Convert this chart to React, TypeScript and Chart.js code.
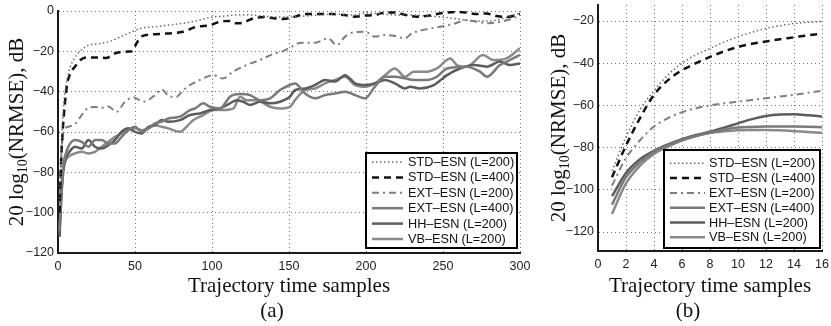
import React, { useEffect, useRef } from "react";
import { Chart, registerables } from "chart.js";
Chart.register(...registerables);

// ---------- Panel (a) data ----------
const A_STD200_X = [1,2,3,4,5,7,10,14,20,26,33,41,48,54,63,72,81,90,99,107,116,125,134,142,150,160,170,180,190,200,210,220,230,240,250,260,270,280,290,300];
const A_STD200_Y = [-95,-70,-55,-44,-38,-30,-24.3,-20.2,-16.9,-16.3,-15.2,-12.7,-10.3,-8.6,-7.8,-7,-6.1,-4.9,-3.1,-2.6,-2,-2,-2.6,-3,-3,-2.5,-2,-1.5,-2,-1,-1.5,-2,-2,-2.5,-3,-4,-5,-5,-3.5,-1];

const A_STD400_X = [1,2,3,4,5,6,8,11,15,20,26,31,37,41,48,51,54,61,70,76,81,90,99,105,112,116,120,127,134,140,146,154,160,169,178,186,193,199,206,212,219,226,233,239,246,252,259,265,272,278,285,291,298,300];
const A_STD400_Y = [-100,-75,-60,-50,-42,-36,-31,-27.6,-24,-23,-23,-23.3,-21,-20.3,-20,-16,-12.7,-11.6,-11.2,-10.9,-10.3,-7.8,-7,-5.3,-4.9,-6.1,-5.8,-3.6,-3,-3.6,-4,-2.8,-1.5,-1.5,-1.5,-2,-2.8,-2.3,-2,-0.8,-0.8,-2,-2.8,-2.5,-1.5,-0.8,-0.5,-0.8,-1.5,-1.2,-2.5,-3,-2,-1.5];

const A_EXT200_X = [1,2,3.4,6.7,11,15.4,19.7,24,28.4,32.7,38,43.5,48.9,55.4,63,67.3,72.7,77,81.4,85.7,92,100.9,107,113.8,122.5,131,139.8,146.3,151.8,158,166.9,175.5,181,186.4,190.7,199.4,205.8,212,218.8,225,230,239,248,256.7,265,272,280,287,295.7,300];
const A_EXT200_Y = [-100,-75,-60.7,-57.4,-56,-51.6,-48,-47.6,-48,-47.3,-50,-45,-42.8,-45,-41.7,-38.9,-42.5,-42.5,-39.2,-36.7,-34.2,-31.8,-33.5,-30,-26.8,-24.3,-21.3,-19.9,-17.7,-15.7,-15.7,-13.6,-16.9,-12.7,-10.8,-10.3,-12.7,-11.9,-12.4,-13.6,-11,-9.1,-7.8,-6.5,-4.5,-5.3,-6.1,-5.3,-3.6,-1.5];

const A_EXT400_X = [1,2,3,4,5,6.7,11,15.4,19.7,24,28.4,32.7,37,41.3,45.7,50,54.3,58.7,63,67.3,71.6,79.2,85.7,89,94.4,98.7,105.2,111.7,118.2,124.7,131.2,137.7,144.2,150.6,153.9,160.4,166.9,173.4,179.9,186.4,192.9,199.4,205.8,212.3,218.8,225.3,231,239.5,246,252.6,265.5,274,278.5,287,293.5,300];
const A_EXT400_Y = [-109,-92,-80,-74,-71,-67.3,-64,-64.9,-67.3,-64,-64,-65.7,-65.7,-62.4,-59.1,-57.4,-59.9,-58.2,-55.7,-54.9,-53.3,-52.4,-49.1,-48.3,-45.8,-47.5,-48.3,-42.5,-41.2,-41.7,-44.2,-43.3,-39.2,-36.7,-35.9,-40.9,-43.3,-41.7,-40.9,-40,-41.7,-43.3,-37.5,-32.6,-32.6,-33.4,-34.2,-34.2,-32.6,-28.5,-27.6,-30.1,-32.6,-26.8,-24.3,-21.8];

const A_HH_X = [1,2,3,4,5,6.7,11,15.4,19.7,24,28.4,32.7,37,41.3,45.7,50,54.3,58.7,63,67.3,71.6,79.2,85.7,92.2,98.7,105.2,111.7,116,120.4,124.7,131.2,137.7,144.2,150.6,153.9,160.4,166.9,173.4,179.9,186.4,192.9,199.4,205.8,212.3,218.8,225.3,228.5,235,244,252.6,261,270,278.5,287,293.5,300];
const A_HH_Y = [-112,-95,-82,-76,-73,-70.6,-67.3,-68.2,-64,-67.3,-68.2,-66.5,-64,-59.9,-58.2,-59.9,-60.7,-57.4,-56.6,-54.1,-54.9,-54.1,-51.6,-50.8,-49.1,-48.3,-45.8,-44.2,-45,-46.6,-45,-45.8,-45,-42.5,-39.2,-38.4,-36.7,-34.2,-35,-31.8,-35.9,-36.7,-35.9,-34.2,-35.9,-38.4,-37.5,-38.4,-36.7,-31.8,-28.5,-26.8,-27.6,-25.1,-26.8,-26];

const A_VB_X = [1,2,3,4,5,6.7,11,15.4,19.7,24,28.4,32.7,37,41.3,45.7,50,54.3,58.7,63,67.3,71.6,79.2,83.5,87.9,94.4,100.9,107.4,113.9,118.2,122.5,129,137.7,144.2,150.6,153.9,160.4,166.9,173.4,179.9,186.4,192.9,199.4,205.8,212.3,218.8,225.3,231,239.5,246,254.8,259,265.5,276,282.6,291.3,300];
const A_VB_Y = [-110,-93,-83,-77,-74,-72.3,-70.6,-69.8,-70.6,-69.8,-67.3,-64.9,-62.4,-60.7,-59.1,-58.2,-59.1,-58.2,-56.6,-57.4,-58.2,-59.9,-57.4,-54.1,-51.6,-49.1,-49.1,-48.3,-42.5,-44.2,-44.2,-47.5,-48.3,-47.5,-44.2,-39.2,-38.4,-35.9,-34.2,-32.6,-36.7,-37.5,-35.9,-31.8,-28.5,-32.6,-30.1,-30.1,-28.5,-23.5,-26.8,-27.6,-21.8,-24.3,-23.5,-18.5];

// ---------- Panel (b) data ----------
const B_X = [1,2,3,4,5,6,7,8,9,10,11,12,13,14,15,16];
const B_STD200 = [-91,-75,-62,-53,-45.5,-40,-36,-33,-30,-27.5,-25.3,-23.5,-22.2,-21.2,-20.6,-20.2];
const B_STD400 = [-94,-79,-66,-55,-48,-43.3,-40,-37,-34.4,-32.3,-30.8,-29.7,-28.6,-27.7,-26.8,-26];
const B_EXT200 = [-98,-85,-76.5,-70,-66,-63.2,-61.3,-60,-59,-58.2,-57.4,-56.6,-55.8,-55,-54,-53];
const B_EXT400 = [-107,-94,-87,-82,-79,-76.5,-74.5,-73,-71.5,-70.5,-70.2,-70,-70,-70,-70.1,-70.3];
const B_HH = [-103,-92,-85.5,-81.5,-78.5,-76,-74,-72.5,-70.5,-68.5,-66.5,-65,-64.3,-64.2,-64.6,-65.2];
const B_VB = [-111.4,-97,-88.6,-83,-79.5,-76.5,-74.5,-73,-72.3,-71.8,-71.6,-71.6,-71.8,-72.2,-72.6,-73];

const LABELS = ["STD\u2013ESN (L=200)", "STD\u2013ESN (L=400)", "EXT\u2013ESN (L=200)", "EXT\u2013ESN (L=400)", "HH\u2013ESN (L=200)", "VB\u2013ESN (L=200)"];
const X_TITLE = "Trajectory time samples";

const STYLES = [
  { color: "#6c6c6c", width: 1.5, dash: [1.5, 2.5] },
  { color: "#111111", width: 2.5, dash: [7, 5] },
  { color: "#7e7e7e", width: 2, dash: [7, 4, 2, 4] },
  { color: "#7a7a7a", width: 2.5, dash: [] as number[] },
  { color: "#5c5c5c", width: 2.5, dash: [] as number[] },
  { color: "#8a8a8a", width: 2.5, dash: [] as number[] },
];

const SANS = '"Liberation Sans", Arial, Helvetica, sans-serif';
const SERIF = '"Liberation Serif", "Times New Roman", Times, serif';

type PanelCfg = {
  left: number; width: number;
  padTop: number; padRight: number; yAxisW: number; xAxisH: number;
  xMin: number; xMax: number; xStep: number;
  yMin: number; yMax: number; yStep: number;
  series: [number[], number[]][];
  panelLabel: string; panelLabelDx: number;
  yTitleX: number;
  legend: { x: number; y: number; w: number; h: number; firstY: number; step: number; l0: number; l1: number; tx: number };
};

const PANEL_A: PanelCfg = {
  left: 0, width: 540, padTop: 11, padRight: 20, yAxisW: 58, xAxisH: 73,
  xMin: 0, xMax: 300, xStep: 50, yMin: -120, yMax: 0, yStep: 20,
  series: [[A_STD200_X, A_STD200_Y], [A_STD400_X, A_STD400_Y], [A_EXT200_X, A_EXT200_Y], [A_EXT400_X, A_EXT400_Y], [A_HH_X, A_HH_Y], [A_VB_X, A_VB_Y]],
  panelLabel: "(a)", panelLabelDx: -17, yTitleX: 23,
  legend: { x: 366, y: 153, w: 151, h: 95, firstY: 162, step: 15.4, l0: 372, l1: 403, tx: 408 },
};

const PANEL_B: PanelCfg = {
  left: 540, width: 291, padTop: 5, padRight: 9, yAxisW: 58, xAxisH: 75,
  xMin: 0, xMax: 16, xStep: 2, yMin: -129, yMax: -12.4, yStep: 20,
  series: [[B_X, B_STD200], [B_X, B_STD400], [B_X, B_EXT200], [B_X, B_EXT400], [B_X, B_HH], [B_X, B_VB]],
  panelLabel: "(b)", panelLabelDx: -22, yTitleX: 25,
  legend: { x: 124, y: 150, w: 156, h: 98, firstY: 163.3, step: 14.8, l0: 130, l1: 165, tx: 169 },
};

const fmt = (v: number | string) => String(v).replace("-", "\u2212");

function Panel({ cfg }: { cfg: PanelCfg }) {
  const ref = useRef<HTMLCanvasElement>(null);
  useEffect(() => {
    const c = cfg;
    const decor = {
      id: "decor",
      afterDraw(chart: any) {
        const ctx = chart.ctx as CanvasRenderingContext2D;
        const ca = chart.chartArea;
        ctx.save();
        ctx.fillStyle = "#111";
        ctx.font = `21px ${SERIF}`;
        ctx.textAlign = "center";
        ctx.textBaseline = "alphabetic";
        const cx = (ca.left + ca.right) / 2;
        ctx.fillText(X_TITLE, cx, 292);
        ctx.fillText(c.panelLabel, cx + c.panelLabelDx, 317);
        const mainFont = `21px ${SERIF}`;
        const subFont = `14px ${SERIF}`;
        const p1 = "20 log", p2 = "10", p3 = "(NRMSE), dB";
        ctx.font = mainFont; const w1 = ctx.measureText(p1).width; const w3 = ctx.measureText(p3).width;
        ctx.font = subFont; const w2 = ctx.measureText(p2).width;
        const total = w1 + w2 + w3;
        const cy = (ca.top + ca.bottom) / 2;
        ctx.translate(c.yTitleX, cy);
        ctx.rotate(-Math.PI / 2);
        ctx.textAlign = "left";
        let u = -total / 2;
        ctx.font = mainFont; ctx.fillText(p1, u, 0); u += w1;
        ctx.font = subFont; ctx.fillText(p2, u, 4); u += w2;
        ctx.font = mainFont; ctx.fillText(p3, u, 0);
        ctx.setTransform(1, 0, 0, 1, 0, 0);
        const L = c.legend;
        ctx.fillStyle = "#fff";
        ctx.fillRect(L.x, L.y, L.w, L.h);
        ctx.strokeStyle = "#000";
        ctx.lineWidth = 2;
        ctx.strokeRect(L.x, L.y, L.w, L.h);
        ctx.font = `12.7px ${SANS}`;
        ctx.textAlign = "left";
        ctx.textBaseline = "middle";
        LABELS.forEach((lab, i) => {
          const y = L.firstY + i * L.step;
          const st = STYLES[i];
          ctx.beginPath();
          ctx.setLineDash(st.dash);
          ctx.strokeStyle = st.color;
          ctx.lineWidth = st.width;
          ctx.moveTo(L.l0, y);
          ctx.lineTo(L.l1, y);
          ctx.stroke();
          ctx.setLineDash([]);
          ctx.fillStyle = "#111";
          ctx.fillText(lab, L.tx, y + 0.5);
        });
        ctx.restore();
      },
    };
    const datasets = c.series.map(([xs, ys], i) => ({
      label: LABELS[i],
      data: xs.map((x, k) => ({ x, y: ys[k] })),
      borderColor: STYLES[i].color,
      borderWidth: STYLES[i].width,
      borderDash: STYLES[i].dash,
      pointRadius: 0,
      fill: false,
      cubicInterpolationMode: "monotone" as const,
    }));
    const gridCommon = { color: "rgba(0,0,0,0.55)", lineWidth: 1, drawTicks: false };
    const chart = new Chart(ref.current as HTMLCanvasElement, {
      type: "line",
      data: { datasets },
      plugins: [decor],
      options: {
        animation: false,
        responsive: false,
        maintainAspectRatio: false,
        devicePixelRatio: 1,
        layout: { padding: { left: 0, right: c.padRight, top: c.padTop, bottom: 0 } },
        plugins: { legend: { display: false }, tooltip: { enabled: false } },
        scales: {
          x: {
            type: "linear", min: c.xMin, max: c.xMax,
            ticks: { stepSize: c.xStep, autoSkip: false, maxRotation: 0, padding: 6, color: "#222", font: { family: SANS, size: 12.5 }, callback: (v: any) => fmt(v) },
            grid: gridCommon,
            border: { display: true, color: "#1a1a1a", width: 2, dash: [1, 3] },
            afterFit: (s: any) => { s.height = c.xAxisH; s.paddingLeft = 0; s.paddingRight = 0; },
          },
          y: {
            type: "linear", min: c.yMin, max: c.yMax,
            ticks: { stepSize: c.yStep, autoSkip: false, includeBounds: false, padding: 4, color: "#222", font: { family: SANS, size: 12.5 }, callback: (v: any) => fmt(v) },
            grid: gridCommon,
            border: { display: true, color: "#1a1a1a", width: 2, dash: [1, 3] },
            afterFit: (s: any) => { s.width = c.yAxisW; s.paddingTop = 0; s.paddingBottom = 0; },
          },
        },
      } as any,
    });
    return () => chart.destroy();
  }, [cfg]);
  return (
    <canvas ref={ref} width={cfg.width} height={326}
      style={{ position: "absolute", left: cfg.left, top: 0, width: cfg.width, height: 326 }} />
  );
}

export default function App() {
  return (
    <div style={{ position: "absolute", left: 0, top: 0, width: 831, height: 326, background: "#fff", overflow: "hidden" }}>
      <Panel cfg={PANEL_A} />
      <Panel cfg={PANEL_B} />
    </div>
  );
}
